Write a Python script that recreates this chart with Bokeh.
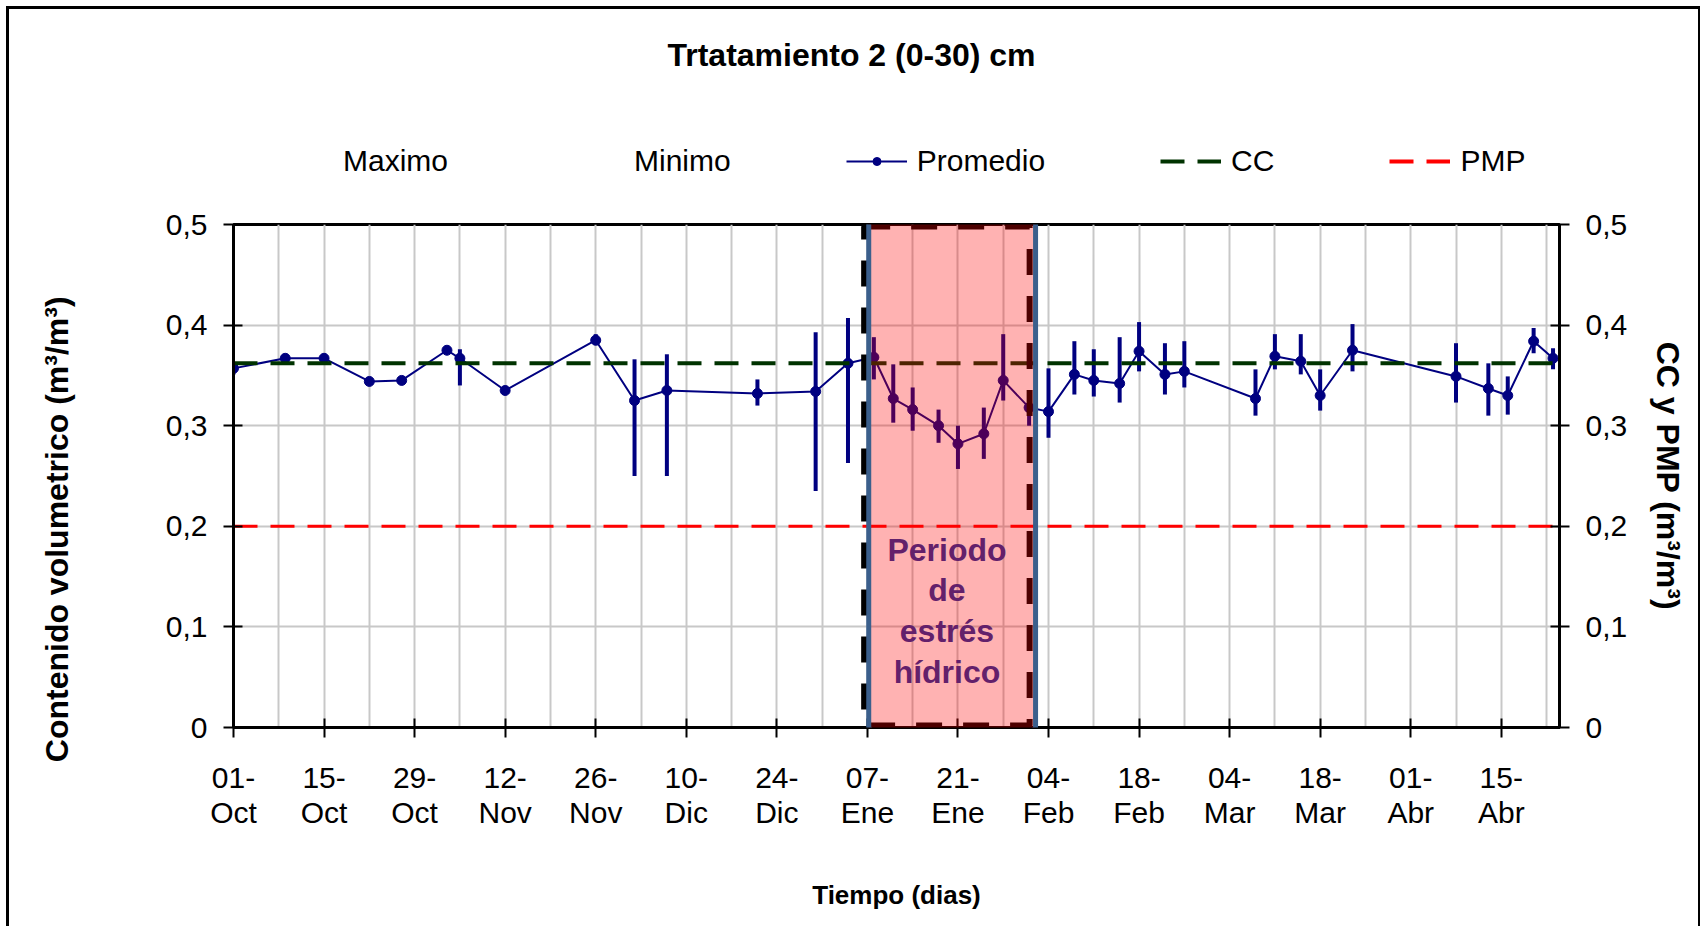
import pandas as pd
from bokeh.plotting import figure
from bokeh.layouts import column
from bokeh.models import (Range1d, LinearAxis, FixedTicker, Legend, LegendItem,
                          Label, BoxAnnotation, ColumnDataSource)
from bokeh.embed import file_html
from bokeh.resources import INLINE

# ---------------- data ----------------
start_date = "2009-10-01"
end_date = "2010-04-24"

dates = ["2009-10-01", "2009-10-09", "2009-10-15", "2009-10-22", "2009-10-27",
         "2009-11-03", "2009-11-05", "2009-11-12", "2009-11-26", "2009-12-02",
         "2009-12-07", "2009-12-21", "2009-12-30", "2010-01-04", "2010-01-08",
         "2010-01-11", "2010-01-14", "2010-01-18", "2010-01-21", "2010-01-25",
         "2010-01-28", "2010-02-01", "2010-02-04", "2010-02-08", "2010-02-11",
         "2010-02-15", "2010-02-18", "2010-02-22", "2010-02-25", "2010-03-08",
         "2010-03-11", "2010-03-15", "2010-03-18", "2010-03-23", "2010-04-08",
         "2010-04-13", "2010-04-16", "2010-04-20", "2010-04-23"]

promedio = [0.357, 0.367, 0.367, 0.344, 0.345,
            0.375, 0.367, 0.335, 0.385, 0.325,
            0.335, 0.332, 0.334, 0.362, 0.368,
            0.327, 0.316, 0.300, 0.282, 0.292,
            0.345, 0.318, 0.314, 0.351, 0.345,
            0.342, 0.374, 0.351, 0.354, 0.327,
            0.369, 0.364, 0.330, 0.375, 0.349,
            0.337, 0.330, 0.384, 0.367]

maximo = [0.363, 0.369, 0.369, 0.346, 0.347,
          0.377, 0.376, 0.337, 0.391, 0.366,
          0.371, 0.346, 0.393, 0.407, 0.388,
          0.361, 0.338, 0.316, 0.300, 0.318,
          0.391, 0.335, 0.357, 0.384, 0.376,
          0.388, 0.403, 0.382, 0.384, 0.356,
          0.391, 0.391, 0.356, 0.401, 0.382,
          0.362, 0.349, 0.397, 0.377]

minimo = [0.351, 0.365, 0.365, 0.342, 0.343,
          0.373, 0.340, 0.333, 0.380, 0.250,
          0.250, 0.320, 0.235, 0.263, 0.346,
          0.303, 0.295, 0.283, 0.257, 0.267,
          0.325, 0.300, 0.288, 0.331, 0.329,
          0.323, 0.354, 0.331, 0.338, 0.310,
          0.356, 0.351, 0.315, 0.354, 0.323,
          0.310, 0.311, 0.372, 0.356]

cc_value = 0.362
pmp_value = 0.2

tick_dates = ["2009-10-01", "2009-10-15", "2009-10-29", "2009-11-12", "2009-11-26",
              "2009-12-10", "2009-12-24", "2010-01-07", "2010-01-21", "2010-02-04",
              "2010-02-18", "2010-03-04", "2010-03-18", "2010-04-01", "2010-04-15"]
tick_labels = ["01-\nOct", "15-\nOct", "29-\nOct", "12-\nNov", "26-\nNov",
               "10-\nDic", "24-\nDic", "07-\nEne", "21-\nEne", "04-\nFeb",
               "18-\nFeb", "04-\nMar", "18-\nMar", "01-\nAbr", "15-\nAbr"]

y_ticks = [0, 0.1, 0.2, 0.3, 0.4, 0.5]
y_tick_labels = ["0", "0,1", "0,2", "0,3", "0,4", "0,5"]

title_text = "Trtatamiento 2 (0-30) cm"
legend_labels = ["Maximo", "Minimo", "Promedio", "CC", "PMP"]

# stress period (dashed frame and shaded text box)
stress_dash = ["2010-01-06 12:00", "2010-02-01 02:00"]
stress_box = ["2010-01-07 05:00", "2010-02-02 00:00"]
stress_text = "Periodo\nde\nestrés\nhídrico"

# ---------------- helpers ----------------
t0 = pd.Timestamp(start_date)


def to_days(values):
    return [float((pd.Timestamp(v) - t0) / pd.Timedelta(days=1)) for v in values]


x = to_days(dates)
x_end = to_days([end_date])[0]
tick_x = to_days(tick_dates)
dash_x = to_days(stress_dash)
box_x = to_days(stress_box)

FONT = "Liberation Sans"
NAVY = "#000080"
GREEN = "#003300"
RED = "#FF0000"

src = ColumnDataSource(dict(x=x, prom=promedio, ymax=maximo, ymin=minimo))
ref_src = ColumnDataSource(dict(x=[0, x_end], cc=[cc_value, cc_value],
                                pmp=[pmp_value, pmp_value]))

# ---------------- header figure (title + legend) ----------------
# Its frame is aligned by the column with the chart frame below; the series
# drawn here only serve as legend glyph sources (y range keeps them hidden).
top = figure(width=1689, height=175, output_backend="svg", toolbar_location=None,
             x_range=Range1d(0, x_end), y_range=Range1d(10, 11),
             x_axis_type=None, y_axis_type=None, min_border=0,
             outline_line_color=None, background_fill_color="white",
             border_fill_color="white")
top.grid.visible = False

lg_max = top.scatter("x", "ymax", source=src, size=1, alpha=0)
lg_min = top.scatter("x", "ymin", source=src, size=1, alpha=0)
lg_line = top.line("x", "prom", source=src, line_color=NAVY, line_width=2)
lg_pts = top.scatter("x", "prom", source=src, size=9, color=NAVY)
lg_cc = top.line("x", "cc", source=ref_src, line_color=GREEN, line_width=4,
                 line_dash="24 13")
lg_pmp = top.line("x", "pmp", source=ref_src, line_color=RED, line_width=4,
                  line_dash="24 13")

top.add_layout(Label(x=618, y=130, x_units="screen", y_units="screen",
                     text=title_text, text_align="center", text_baseline="middle",
                     text_font=FONT, text_font_style="bold", text_font_size="32px",
                     text_color="black"))

legend = Legend(items=[LegendItem(label=legend_labels[0], renderers=[lg_max]),
                       LegendItem(label=legend_labels[1], renderers=[lg_min]),
                       LegendItem(label=legend_labels[2], renderers=[lg_line, lg_pts]),
                       LegendItem(label=legend_labels[3], renderers=[lg_cc]),
                       LegendItem(label=legend_labels[4], renderers=[lg_pmp])],
                orientation="horizontal", location=(39, 6),
                glyph_width=61, glyph_height=20, label_standoff=10, spacing=115,
                padding=0, margin=0, border_line_alpha=0, background_fill_alpha=0,
                label_text_font=FONT, label_text_font_size="30px",
                label_text_color="black")
top.add_layout(legend)

# ---------------- main chart ----------------
p = figure(width=1689, height=745, output_backend="svg", toolbar_location=None,
           x_range=Range1d(0, x_end), y_range=Range1d(0, 0.5),
           min_border_left=224, min_border_right=139, min_border_top=40,
           min_border_bottom=202, background_fill_color="white",
           border_fill_color="white")

p.outline_line_color = "black"
p.outline_line_width = 3
p.outline_line_alpha = 1

p.xgrid.ticker = FixedTicker(ticks=list(range(0, int(x_end) + 1, 7)))
p.ygrid.ticker = FixedTicker(ticks=y_ticks)
for g in (p.xgrid[0], p.ygrid[0]):
    g.grid_line_color = "#C8C8C8"
    g.grid_line_width = 2


def style_axis(ax):
    ax.axis_line_color = "black"
    ax.axis_line_width = 3
    ax.major_tick_line_color = "black"
    ax.major_tick_line_width = 2
    ax.major_tick_in = 9
    ax.major_tick_out = 10
    ax.minor_tick_line_color = None
    ax.major_label_text_font = FONT
    ax.major_label_text_font_size = "30px"
    ax.major_label_text_color = "black"
    ax.axis_label_text_font = FONT
    ax.axis_label_text_font_style = "bold"
    ax.axis_label_text_color = "black"


xa = p.xaxis[0]
xa.ticker = FixedTicker(ticks=tick_x)
xa.major_label_overrides = {tx: lab for tx, lab in zip(tick_x, tick_labels)}
style_axis(xa)
xa.major_label_standoff = 23
xa.major_label_text_line_height = 1.08
xa.axis_label = "Tiempo (dias)"
xa.axis_label_text_font_size = "26px"
xa.axis_label_standoff = 48

ya = p.yaxis[0]
ya.ticker = FixedTicker(ticks=y_ticks)
ya.major_label_overrides = {t: lab for t, lab in zip(y_ticks, y_tick_labels)}
style_axis(ya)
ya.major_label_standoff = 16
# trailing no-break spaces move the rotated label down, as in the original
ya.axis_label = "Contenido volumetrico (m³/m³)" + "\u00a0" * 12
ya.axis_label_text_font_size = "32px"
ya.axis_label_standoff = 88

ra = LinearAxis(ticker=FixedTicker(ticks=y_ticks))
ra.major_label_overrides = {t: lab for t, lab in zip(y_ticks, y_tick_labels)}
style_axis(ra)
ra.major_label_standoff = 16
ra.axis_label = "CC y PMP (m³/m³)"
ra.axis_label_text_font_size = "32px"
ra.axis_label_standoff = 20
p.add_layout(ra, "right")

# series
p.scatter("x", "ymax", source=src, size=1, alpha=0)
p.scatter("x", "ymin", source=src, size=1, alpha=0)
p.segment(x0="x", y0="ymin", x1="x", y1="ymax", source=src,
          line_color=NAVY, line_width=4)
p.line("x", "prom", source=src, line_color=NAVY, line_width=2)
p.scatter("x", "prom", source=src, size=10, color=NAVY)

p.line("x", "cc", source=ref_src, line_color=GREEN, line_width=4, line_dash="24 13")
p.line("x", "pmp", source=ref_src, line_color=RED, line_width=3, line_dash="24 13")

# stress period boxes
p.add_layout(BoxAnnotation(left=dash_x[0], right=dash_x[1], bottom=0.002, top=0.498,
                           fill_alpha=0, line_color="black", line_alpha=1,
                           line_width=6, line_dash="26 21"))
p.add_layout(BoxAnnotation(left=box_x[0], right=box_x[1], bottom=-0.003, top=0.508,
                           fill_color=RED, fill_alpha=0.3,
                           line_color="#3B5F8C", line_alpha=1, line_width=5,
                           border_radius=4))
p.add_layout(Label(x=(box_x[0] + box_x[1]) / 2 - 0.8, y=0.116, text=stress_text,
                   text_align="center", text_baseline="middle",
                   text_font=FONT, text_font_style="bold", text_font_size="32px",
                   text_color="#63206B", text_line_height=1.13))

layout = column(top, p, spacing=0,
                styles={"margin": "9px 0px 0px 9px",
                        "box-shadow": "-3px -3px 0px 0px black, 3px -3px 0px 0px black"})

open("out.html", "w").write(file_html(layout, INLINE))
